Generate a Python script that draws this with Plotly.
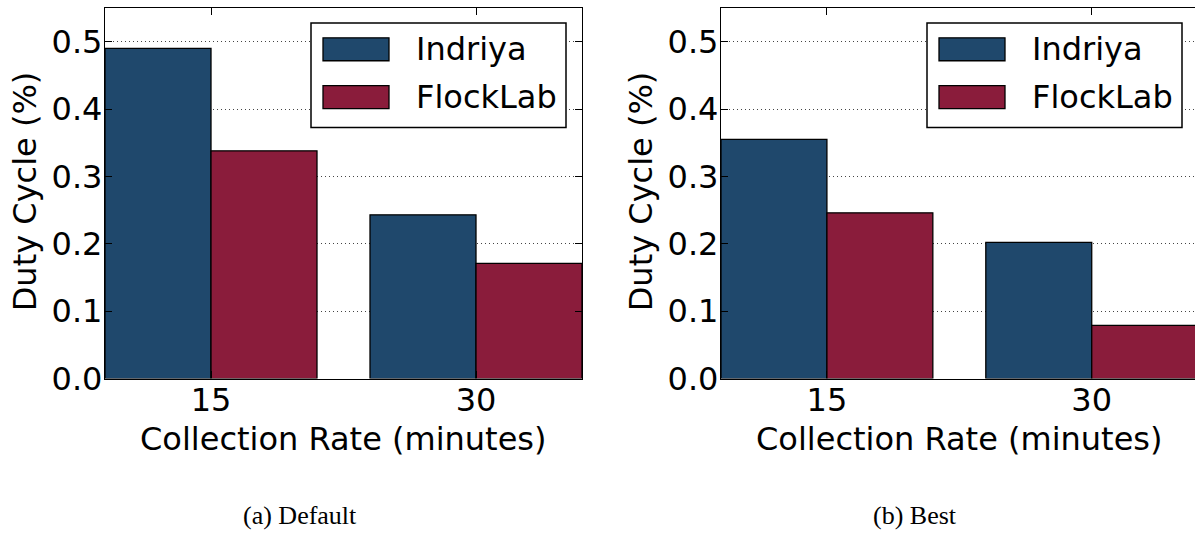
import plotly.graph_objects as go

# The captured page is ~553 px tall and shown at 536 px, so vertical
# screen positions are converted with S.
W = 1195
S = 536 / 553
H = 553

categories = ["15", "30"]
series_names = ["Indriya", "FlockLab"]
series_colors = ["#1F486C", "#8A1C3B"]

default_indriya = [0.490, 0.243]
default_flocklab = [0.338, 0.171]
best_indriya = [0.355, 0.202]
best_flocklab = [0.246, 0.079]

y_ticks = [0.0, 0.1, 0.2, 0.3, 0.4, 0.5]
y_tick_labels = ["0.0", "0.1", "0.2", "0.3", "0.4", "0.5"]

captions = ["(a) Default", "(b) Best"]
x_title = "Collection Rate (minutes)"
y_title = "Duty Cycle (%)"

FONT = "DejaVu Sans"
FS = 32


def px_x(p):
    return p / W


def px_y(p):
    return (H - p / S) / H


fig = go.Figure()

panels = [
    (default_indriya, default_flocklab, "x", "y"),
    (best_indriya, best_flocklab, "x2", "y2"),
]
for ind, flo, xa, ya in panels:
    for name, vals, col in zip(series_names, [ind, flo], series_colors):
        fig.add_trace(go.Bar(
            x=categories, y=vals, name=name, xaxis=xa, yaxis=ya,
            marker=dict(color=col, line=dict(color="black", width=1.3)),
            showlegend=False,
        ))

left_x0, left_x1 = 105, 582
right_x0, right_x1 = 721, 1195
top_px, bot_px = 8, 380

common_x = dict(
    type="category", showline=True, linecolor="black", linewidth=1.3,
    ticks="inside", ticklen=7, tickcolor="black", tickwidth=1.2,
    mirror="ticks", showgrid=False, zeroline=False, ticklabelstandoff=-7,
    tickfont=dict(family=FONT, size=FS, color="black"),
)
common_y = dict(
    range=[0, 0.55], tickvals=y_ticks, ticktext=y_tick_labels,
    showline=True, linecolor="black", linewidth=1.3,
    ticks="inside", ticklen=7, tickcolor="black", tickwidth=1.2,
    showgrid=True, gridcolor="#444444", gridwidth=1, griddash="1px,3px",
    zeroline=False, ticklabelstandoff=-5,
    tickfont=dict(family=FONT, size=FS, color="black"),
)

fig.update_layout(
    width=W, height=H,
    margin=dict(l=0, r=0, t=0, b=0),
    paper_bgcolor="white", plot_bgcolor="white",
    barmode="group", bargap=0.2, bargroupgap=0,
    xaxis=dict(common_x, domain=[px_x(left_x0), px_x(left_x1)], range=[-0.4, 1.4], anchor="y"),
    yaxis=dict(common_y, domain=[px_y(bot_px), px_y(top_px)], anchor="x", mirror="ticks"),
    xaxis2=dict(common_x, domain=[px_x(right_x0), 1.0], range=[-0.4, 1.39], anchor="y2"),
    yaxis2=dict(common_y, domain=[px_y(bot_px), px_y(top_px)], anchor="x2", mirror=False),
)

annotations = []
shapes = []
for i, (ax0, ax1) in enumerate([(left_x0, 582), (right_x0, 1197)]):
    off = ax0 - left_x0
    annotations.append(dict(
        text=y_title, xref="paper", yref="paper",
        x=px_x(25 + off), y=px_y(192),
        xanchor="center", yanchor="middle", textangle=-90, showarrow=False,
        font=dict(family=FONT, size=FS, color="black"),
    ))
    annotations.append(dict(
        text=x_title, xref="paper", yref="paper",
        x=px_x((ax0 + ax1) / 2), y=px_y(441),
        xanchor="center", yanchor="middle", showarrow=False,
        font=dict(family=FONT, size=FS, color="black"),
    ))
    annotations.append(dict(
        text=captions[i], xref="paper", yref="paper",
        x=px_x((ax0 + ax1) / 2 - 44), y=px_y(517),
        xanchor="center", yanchor="middle", showarrow=False,
        font=dict(family="Liberation Serif", size=26, color="black"),
    ))
    shapes.append(dict(
        type="rect", xref="paper", yref="paper",
        x0=px_x(311 + off), x1=px_x(566 + off), y0=px_y(128), y1=px_y(23),
        line=dict(color="black", width=1.5), fillcolor="white", layer="above",
    ))
    for j, (name, col) in enumerate(zip(series_names, series_colors)):
        cy = 49.5 + 48 * j
        shapes.append(dict(
            type="rect", xref="paper", yref="paper",
            x0=px_x(323 + off), x1=px_x(389 + off),
            y0=px_y(cy + 11.5), y1=px_y(cy - 11.5),
            line=dict(color="black", width=1.3), fillcolor=col, layer="above",
        ))
        annotations.append(dict(
            text=name, xref="paper", yref="paper",
            x=px_x(414 + off), y=px_y(cy),
            xanchor="left", yanchor="middle", showarrow=False,
            font=dict(family=FONT, size=FS, color="black"),
        ))

fig.update_layout(annotations=annotations, shapes=shapes)

fig.write_html(
    "out.html",
    config={"displayModeBar": False},
    post_script="document.body.style.margin='0px';document.body.style.overflow='hidden';",
)
